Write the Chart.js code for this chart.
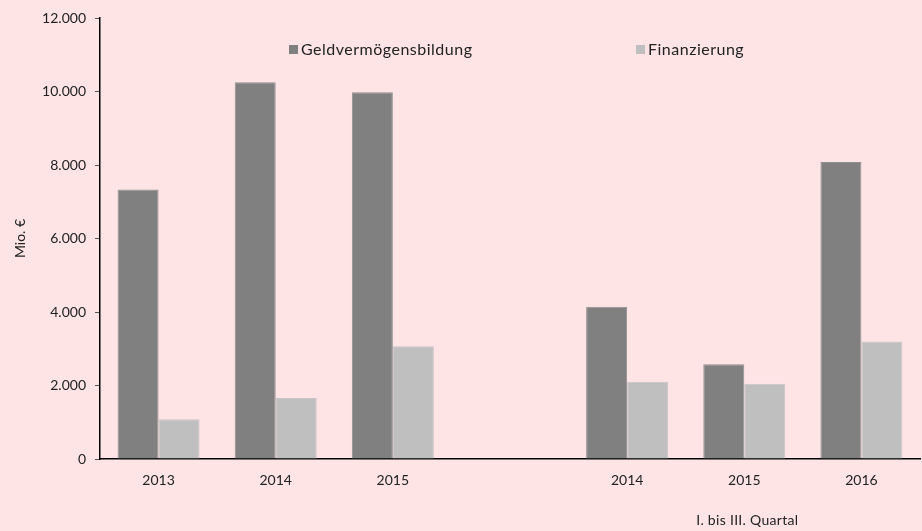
<!DOCTYPE html>
<html>
<head>
<meta charset="utf-8">
<script src="https://cdn.jsdelivr.net/npm/chart.js@4/dist/chart.umd.min.js"></script>
<style>
  html, body { margin: 0; padding: 0; background: #ffe4e6; }
  #wrap { width: 922px; height: 531px; }
</style>
</head>
<body>
<div id="wrap"><canvas id="chart"></canvas></div>
<script>
// Jahre, danach I. bis III. Quartal (leere Kategorie als Abstand)
const categories = ['2013', '2014', '2015', '', '2014', '2015', '2016'];
const geldvermoegen = [7330, 10250, 9980, null, 4140, 2580, 8080];
const finanzierung = [1080, 1660, 3070, null, 2100, 2050, 3200];
const yTicks = [0, 2000, 4000, 6000, 8000, 10000, 12000];

const font = "'Lato', 'DejaVu Sans', sans-serif";

function fmt(v) {
    return String(v).replace(/\B(?=(\d{3})+(?!\d))/g, '.');
}

// Legende oben im Diagramm + Hinweis "I. bis III. Quartal"
const extras = {
    id: 'extras',
    afterDraw(chart) {
        const ctx = chart.ctx;
        const x = chart.scales.x;
        ctx.save();
        ctx.font = '16px ' + font;
        ctx.letterSpacing = '0.5px';
        ctx.textBaseline = 'middle';
        const legendX = [289, 636];
        chart.data.datasets.forEach(function (ds, i) {
            ctx.fillStyle = ds.backgroundColor;
            ctx.fillRect(legendX[i], 45, 9, 9);
            ctx.fillStyle = '#222';
            ctx.textAlign = 'left';
            ctx.fillText(ds.label, legendX[i] + 12, 50);
        });
        ctx.font = '14px ' + font;
        ctx.letterSpacing = '0.3px';
        ctx.textAlign = 'center';
        ctx.fillText('I. bis III. Quartal', x.getPixelForValue(5) + 3, 520);
        ctx.restore();
    }
};

new Chart(document.getElementById('chart').getContext('2d'), {
    type: 'bar',
    data: {
        labels: categories,
        datasets: [{
            label: 'Geldvermögensbildung',
            data: geldvermoegen,
            backgroundColor: '#808080',
            borderColor: '#8f8f8f',
            borderWidth: 1
        }, {
            label: 'Finanzierung',
            data: finanzierung,
            backgroundColor: '#bfbfbf',
            borderColor: '#c9c5c6',
            borderWidth: 1
        }]
    },
    options: {
        responsive: true,
        maintainAspectRatio: false,
        animation: false,
        layout: { padding: { top: 18, right: 2, left: 0, bottom: 0 } },
        categoryPercentage: 0.7,
        barPercentage: 1.0,
        plugins: {
            legend: { display: false },
            tooltip: { enabled: false }
        },
        scales: {
            x: {
                grid: { display: true, drawOnChartArea: false, drawTicks: false },
                border: { display: true, color: '#000', width: 1.5 },
                ticks: { padding: 13, color: '#222', font: { family: font, size: 14 } },
                afterFit(s) { s.height = 72; }
            },
            y: {
                min: 0,
                max: 12000,
                afterBuildTicks(s) { s.ticks = yTicks.map(v => ({ value: v })); },
                grid: { display: true, drawOnChartArea: false, drawTicks: true, tickLength: 5, color: '#555' },
                border: { display: true, color: '#000', width: 1.5 },
                ticks: {
                    padding: 9,
                    color: '#222',
                    font: { family: font, size: 14 },
                    callback: v => fmt(v)
                },
                title: {
                    display: true,
                    text: 'Mio. €',
                    color: '#222',
                    font: { family: font, size: 14 },
                    padding: { top: 12, bottom: 4 }
                },
                afterFit(s) { s.width = 100; }
            }
        }
    },
    plugins: [extras]
});
</script>
</body>
</html>
